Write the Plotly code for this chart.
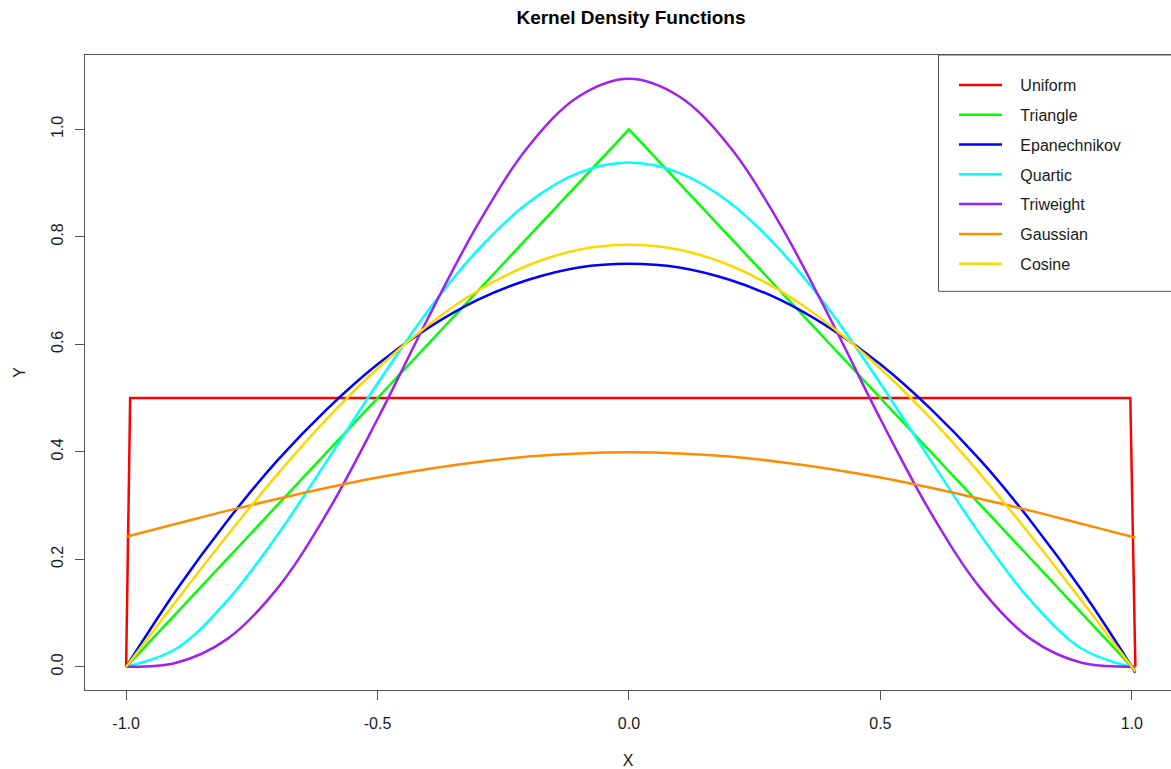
import plotly.graph_objects as go

# ---- data ----
x_grid = [-1.0, -0.9, -0.8, -0.7, -0.6, -0.5, -0.4, -0.3, -0.2, -0.1, 0.0,
          0.1, 0.2, 0.3, 0.4, 0.5, 0.6, 0.7, 0.8, 0.9, 1.0, 1.007]

uniform_x = [-1.0, -0.992, 0.997, 1.007]
uniform_y = [0.0, 0.5, 0.5, 0.0]

triangle_y = [0.0, 0.1, 0.2, 0.3, 0.4, 0.5, 0.6, 0.7, 0.8, 0.9, 1.0,
              0.9, 0.8, 0.7, 0.6, 0.5, 0.4, 0.3, 0.2, 0.1, 0.0, -0.007]
epanechnikov_y = [0.0, 0.143, 0.27, 0.383, 0.48, 0.563, 0.63, 0.683, 0.72, 0.743, 0.75,
                  0.743, 0.72, 0.683, 0.63, 0.563, 0.48, 0.383, 0.27, 0.143, 0.0, -0.011]
quartic_y = [0.0, 0.034, 0.122, 0.244, 0.384, 0.527, 0.662, 0.776, 0.864, 0.919, 0.938,
             0.919, 0.864, 0.776, 0.662, 0.527, 0.384, 0.244, 0.122, 0.034, 0.0, 0.0002]
triweight_y = [0.0, 0.0075, 0.051, 0.145, 0.287, 0.461, 0.648, 0.824, 0.968, 1.061, 1.094,
               1.061, 0.968, 0.824, 0.648, 0.461, 0.287, 0.145, 0.051, 0.0075, 0.0, 0.0]
gaussian_y = [0.242, 0.266, 0.29, 0.312, 0.333, 0.352, 0.368, 0.381, 0.391, 0.397, 0.399,
              0.397, 0.391, 0.381, 0.368, 0.352, 0.333, 0.312, 0.29, 0.266, 0.242, 0.240]
cosine_y = [0.0, 0.123, 0.243, 0.357, 0.462, 0.555, 0.635, 0.700, 0.747, 0.776, 0.785,
            0.776, 0.747, 0.700, 0.635, 0.555, 0.462, 0.357, 0.243, 0.123, 0.0, -0.009]

series_names = ["Uniform", "Triangle", "Epanechnikov", "Quartic", "Triweight", "Gaussian", "Cosine"]
series_colors = ["#FF0000", "#00FF00", "#0000FF", "#00FFFF", "#A020F0", "#FF8C00", "#FFD700"]

x_ticks = [-1.0, -0.5, 0.0, 0.5, 1.0]
x_ticklabels = ["-1.0", "-0.5", "0.0", "0.5", "1.0"]
y_ticks = [0.0, 0.2, 0.4, 0.6, 0.8, 1.0]
y_ticklabels = ["0.0", "0.2", "0.4", "0.6", "0.8", "1.0"]

FONT = "Liberation Sans, Arial, Helvetica, sans-serif"
W, H = 1171, 769
ML, MR, MT, MB = 85, 0, 55, 79
LEGEND_PAD = "\u00a0\u00a0\u00a0"  # spacing between legend line and label

series = [
    (uniform_x, uniform_y, "linear"),
    (x_grid, triangle_y, "linear"),
    (x_grid, epanechnikov_y, "spline"),
    (x_grid, quartic_y, "spline"),
    (x_grid, triweight_y, "spline"),
    (x_grid, gaussian_y, "spline"),
    (x_grid, cosine_y, "spline"),
]

fig = go.Figure()
for (xs, ys, shape), name, color in zip(series, series_names, series_colors):
    fig.add_trace(go.Scatter(
        x=xs, y=ys, mode="lines", name=LEGEND_PAD + name, legendgroup=name,
        line=dict(color=color, width=2.5, shape=shape),
    ))

pw = W - ML - MR
ph = H - MT - MB

def px_to_paper_x(px):
    return (px - ML) / pw

def px_to_paper_y(py):
    return (H - MB - py) / ph

fig.add_shape(type="rect", xref="paper", yref="paper",
              x0=px_to_paper_x(938.5), x1=1.1,
              y0=px_to_paper_y(291.3), y1=1.0,
              line=dict(color="#555555", width=1), fillcolor="rgba(0,0,0,0)")

fig.update_layout(
    width=W, height=H,
    margin=dict(l=ML, r=MR, t=MT, b=MB, pad=0),
    paper_bgcolor="white", plot_bgcolor="white",
    font=dict(family=FONT, size=16, color="#1a1a1a"),
    title=dict(text="<b>Kernel Density Functions</b>", x=px_to_paper_x(631), xref="paper",
               xanchor="center", y=1 - 17 / H, yref="container", yanchor="middle",
               font=dict(family=FONT, size=19, color="#000000")),
    showlegend=True,
    legend=dict(x=px_to_paper_x(954), xanchor="left", y=px_to_paper_y(68), yanchor="top",
                bgcolor="rgba(0,0,0,0)", borderwidth=0,
                font=dict(family=FONT, size=16, color="#1a1a1a"),
                tracegroupgap=6, itemwidth=43),
    xaxis=dict(range=[-1.0818, 1.0779], tickvals=x_ticks, ticktext=x_ticklabels,
               showgrid=False, zeroline=False, showline=True, linecolor="#555555",
               linewidth=1, mirror=True, ticks="outside", ticklen=9, tickcolor="#555555",
               tickfont=dict(size=16), ticklabelstandoff=10,
               title=dict(text="X", standoff=23, font=dict(size=16))),
    yaxis=dict(range=[-0.0432, 1.1382], tickvals=y_ticks, ticktext=y_ticklabels,
               showgrid=False, zeroline=False, showline=True, linecolor="#555555",
               linewidth=1, mirror=False, ticks="outside", ticklen=9, tickcolor="#555555",
               tickfont=dict(size=16), tickangle=-90, ticklabelstandoff=6,
               title=dict(text="Y", standoff=18, font=dict(size=16))),
)

fig.write_html("out.html")
